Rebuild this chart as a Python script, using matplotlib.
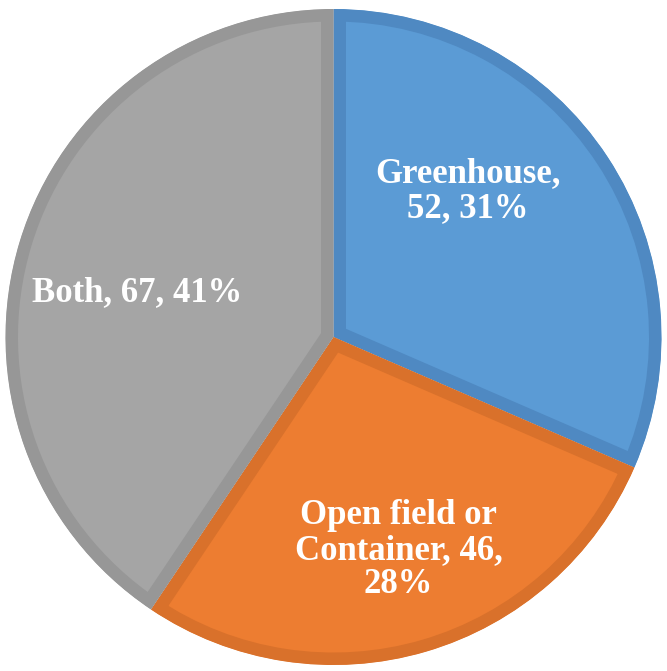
import matplotlib.pyplot as plt

labels = ['Greenhouse', 'Open field or\nContainer', 'Both']
counts = [52, 46, 67]
label_text = ['Greenhouse,\n52, 31%', 'Open field or\nContainer, 46,\n28%', 'Both, 67, 41%']

face = ['#5B9BD5', '#ED7D31', '#A5A5A5']
edge = ['#4F89C2', '#D9712B', '#979797']
# label spots in radius units (Excel places them by hand)
label_pos = [(0.41, 0.445), (0.198, -0.65), (-0.60, 0.134)]

fig = plt.figure(figsize=(6.67, 6.71), dpi=100)
ax = fig.add_axes([0, 0, 1, 1])

wedges, _ = ax.pie(counts, colors=face, startangle=90, counterclock=False, radius=1)
ax.set_xlim(-333.5 / 328, 333.5 / 328)
ax.set_ylim(-334 / 328, 337 / 328)
ax.set_aspect('equal')

for w, ec in zip(wedges, edge):
    # inner stroke: double width, clipped to the wedge itself
    w.set_edgecolor(ec)
    w.set_linewidth(18)
    w.set_clip_on(True)
    w.set_clip_path(w)

for txt, (x, y) in zip(label_text, label_pos):
    ax.text(x, y, txt, ha='center', va='center', color='white', fontsize=25,
            fontweight='bold', family='Liberation Serif', linespacing=1.05)

ax.axis('off')
fig.savefig('out.png', dpi=100)
